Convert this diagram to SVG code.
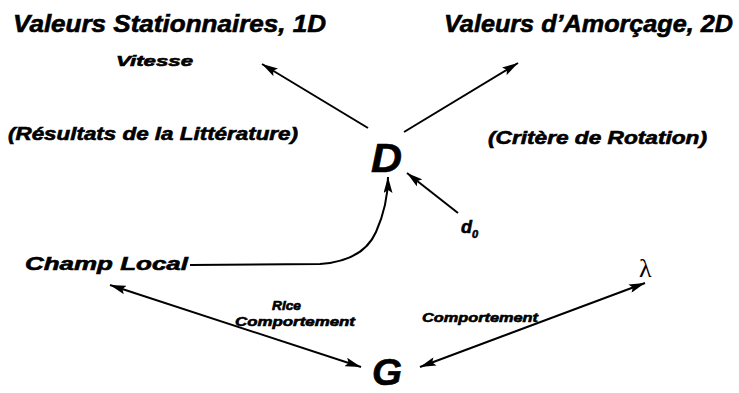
<svg xmlns="http://www.w3.org/2000/svg" width="739" height="393" viewBox="0 0 739 393">
<style>
text{font-family:"Liberation Sans",Arial,sans-serif;font-weight:bold;font-style:italic;fill:#000;stroke:#000;stroke-width:0.6}
.ln{stroke:#000;stroke-width:2;fill:none}
</style>
<defs>
<marker id="ah" viewBox="0 0 16 9" refX="16" refY="4.5" markerWidth="16" markerHeight="9" markerUnits="userSpaceOnUse" orient="auto-start-reverse">
<path d="M0,0 L16,4.5 L0,9 L3,4.5 Z" fill="#000"/>
</marker>
</defs>
<rect width="739" height="393" fill="#fff"/>
<g id="n-stationnaires"><text x="13" y="32" font-size="24" textLength="313" lengthAdjust="spacingAndGlyphs">Valeurs Stationnaires, 1D</text></g>
<g id="n-vitesse"><text x="116" y="66" font-size="15" textLength="77" lengthAdjust="spacingAndGlyphs">Vitesse</text></g>
<g id="n-litterature"><text x="8" y="140" font-size="18" textLength="290" lengthAdjust="spacingAndGlyphs">(Résultats de la Littérature)</text></g>
<g id="n-amorcage"><text x="444" y="32" font-size="24" textLength="289" lengthAdjust="spacingAndGlyphs">Valeurs d’Amorçage, 2D</text></g>
<g id="n-critere"><text x="488" y="144" font-size="18" textLength="219" lengthAdjust="spacingAndGlyphs">(Critère de Rotation)</text></g>
<g id="n-D"><text x="371" y="172" font-size="40" textLength="31" lengthAdjust="spacingAndGlyphs">D</text></g>
<g id="n-d0"><text x="461" y="233" font-size="18">d<tspan font-size="11" dy="5">0</tspan></text></g>
<g id="n-champ"><text x="25" y="270" font-size="19" textLength="163" lengthAdjust="spacingAndGlyphs">Champ Local</text></g>
<g id="n-lambda"><text x="639" y="277" font-size="26" style="font-family:'Liberation Serif',serif;font-style:normal;font-weight:normal;stroke:none">λ</text></g>
<g id="n-G"><text x="372" y="385" font-size="37" textLength="30" lengthAdjust="spacingAndGlyphs">G</text></g>
<g id="connectors">
<line class="ln" x1="368" y1="128" x2="262" y2="64" marker-end="url(#ah)"/>
<line class="ln" x1="404" y1="132" x2="518" y2="63" marker-end="url(#ah)"/>
<line class="ln" x1="458" y1="213" x2="407" y2="173" marker-end="url(#ah)"/>
<path class="ln" d="M190,265 L320,264 C350,262 368,250 376,232 C384,214 388,198 388,177" marker-end="url(#ah)"/>
<line class="ln" x1="110" y1="285" x2="361" y2="367" marker-start="url(#ah)" marker-end="url(#ah)"/>
<line class="ln" x1="645" y1="283" x2="420" y2="367" marker-start="url(#ah)" marker-end="url(#ah)"/>
<text x="272" y="310" font-size="12" textLength="29" lengthAdjust="spacingAndGlyphs">Rice</text>
<text x="235" y="326" font-size="13" textLength="120" lengthAdjust="spacingAndGlyphs">Comportement</text>
<text x="422" y="322" font-size="13" textLength="116" lengthAdjust="spacingAndGlyphs">Comportement</text>
</g>
</svg>
